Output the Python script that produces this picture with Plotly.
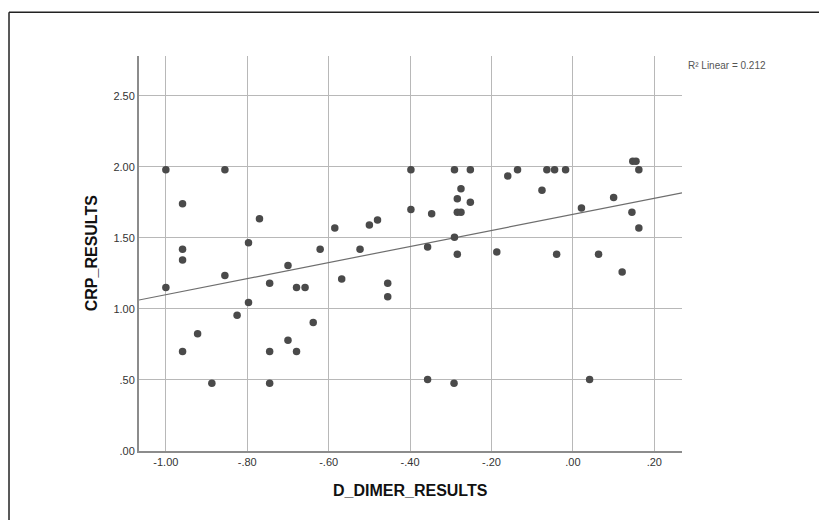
import numpy as np
import plotly.graph_objects as go

# Data
d_dimer = [-1.00, -0.855, -0.959, -0.959, -0.959, -0.855, -0.770, -0.797, -0.700, -0.621,
           -0.585, -0.568, -0.523, -0.500, -0.480, -0.398, -0.291, -0.252, -0.160, -0.136,
           -0.064, -0.045, -0.018, 0.147, 0.155, 0.162, -0.275, -0.284, -0.252, -0.284,
           -0.275, -0.398, -0.347, -0.076, 0.021, 0.100, 0.145, 0.162, -0.291, -0.357,
           -0.284, -0.187, -0.040, 0.063, 0.121, -1.00, -0.745, -0.679, -0.658, -0.455,
           -0.455, -0.797, -0.825, -0.638, -0.922, -0.700, -0.959, -0.745, -0.679, -0.887,
           -0.745, -0.357, -0.292, 0.041]
crp = [1.98, 1.98, 1.74, 1.42, 1.345, 1.235, 1.635, 1.465, 1.305, 1.42,
       1.57, 1.21, 1.42, 1.59, 1.625, 1.98, 1.98, 1.98, 1.935, 1.98,
       1.98, 1.98, 1.98, 2.04, 2.04, 1.98, 1.845, 1.775, 1.75, 1.68,
       1.68, 1.70, 1.67, 1.835, 1.71, 1.785, 1.68, 1.57, 1.505, 1.435,
       1.385, 1.40, 1.385, 1.385, 1.26, 1.15, 1.18, 1.15, 1.15, 1.18,
       1.085, 1.045, 0.955, 0.905, 0.825, 0.78, 0.70, 0.70, 0.70, 0.477,
       0.477, 0.503, 0.477, 0.503]

x_ticks = [-1.0, -0.8, -0.6, -0.4, -0.2, 0.0, 0.2]
x_tick_labels = ["-1.00", "-.80", "-.60", "-.40", "-.20", ".00", ".20"]
y_ticks = [0.0, 0.5, 1.0, 1.5, 2.0, 2.5]
y_tick_labels = [".00", ".50", "1.00", "1.50", "2.00", "2.50"]
x_range = [-1.066, 0.268]
y_range = [0.0, 2.78]
r2_label = "R² Linear = 0.212"

# Linear fit computed from the data
slope, intercept = np.polyfit(d_dimer, crp, 1)
fit_x = np.array(x_range)
fit_y = intercept + slope * fit_x

fig = go.Figure()
fig.add_trace(go.Scatter(
    x=fit_x, y=fit_y, mode="lines",
    line=dict(color="#6e6e6e", width=1.2),
    hoverinfo="skip", showlegend=False, cliponaxis=True))
fig.add_trace(go.Scatter(
    x=d_dimer, y=crp, mode="markers",
    marker=dict(size=7.5, color="#4a4a4a", line=dict(width=0)),
    showlegend=False))

font_family = "Liberation Sans, Arial, sans-serif"
fig.update_layout(
    width=819, height=512,
    margin=dict(l=131, r=145, t=48, b=69),
    paper_bgcolor="white", plot_bgcolor="white",
    font=dict(family=font_family, size=11, color="#333333"),
    xaxis=dict(range=x_range, tickvals=x_ticks, ticktext=x_tick_labels,
               showgrid=True, gridcolor="#b8b8b8", gridwidth=1,
               showline=True, linecolor="#8c8c8c", linewidth=2,
               zeroline=False, ticks="", ticklen=0,
               tickfont=dict(size=11, color="#333333")),
    yaxis=dict(range=y_range, tickvals=y_ticks, ticktext=y_tick_labels,
               showgrid=True, gridcolor="#b8b8b8", gridwidth=1,
               showline=True, linecolor="#8c8c8c", linewidth=2,
               zeroline=False, ticks="", ticklen=0,
               tickfont=dict(size=11, color="#333333")),
    annotations=[
        dict(text="<b>D_DIMER_RESULTS</b>", xref="paper", yref="paper",
             x=0.5, y=-0.099, xanchor="center", yanchor="middle",
             showarrow=False, font=dict(size=16, color="#111111")),
        dict(text="<b>CRP_RESULTS</b>", xref="paper", yref="paper",
             x=-0.087, y=0.5, xanchor="center", yanchor="middle", textangle=-90,
             showarrow=False, font=dict(size=16, color="#111111")),
        dict(text=r2_label, xref="paper", yref="paper",
             x=1.008, y=0.977, xanchor="left", yanchor="middle",
             showarrow=False, font=dict(size=10, color="#555555")),
    ],
    shapes=[
        dict(type="line", xref="paper", yref="paper",
             x0=-0.2394, x1=-0.2394, y0=-0.2, y1=1.111,
             line=dict(color="#222222", width=1.5)),
        dict(type="line", xref="paper", yref="paper",
             x0=-0.2394, x1=1.3, y0=1.111, y1=1.111,
             line=dict(color="#222222", width=1.5)),
    ],
)

fig.write_html("out.html")
